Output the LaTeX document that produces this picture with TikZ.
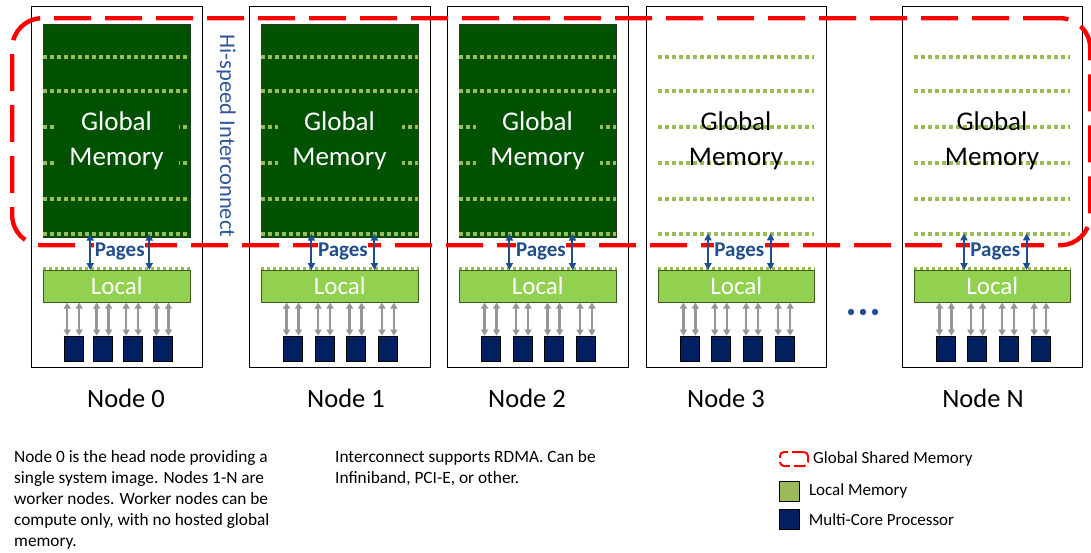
\documentclass[tikz,border=0pt]{standalone}
\usepackage{fontspec}
\setmainfont{Carlito}
\usetikzlibrary{arrows.meta,positioning,calc}
\definecolor{gmgreen}{HTML}{005200}
\definecolor{gmedge}{HTML}{1E3B1E}
\definecolor{dotgreen}{HTML}{9BBB59}
\definecolor{localgreen}{HTML}{92D050}
\definecolor{localedge}{HTML}{3F5A1E}
\definecolor{legendgreen}{HTML}{9BBB59}
\definecolor{cpunavy}{HTML}{002060}
\definecolor{pageblue}{HTML}{1F4E8C}
\definecolor{interblue}{HTML}{2F5597}
\definecolor{cpugray}{HTML}{969696}
\definecolor{sharedred}{HTML}{FF0000}

\begin{document}
\begin{tikzpicture}[x=1pt, y=-1pt,
  nodebox/.style={draw=black, line width=1.4pt, minimum height=361pt, inner sep=0pt, anchor=north west},
  gmfull/.style={draw=gmedge, line width=0.6pt, fill=gmgreen, minimum height=213pt, inner sep=0pt, anchor=north west},
  gmempty/.style={draw=none, minimum height=213pt, inner sep=0pt, anchor=north west},
  gmtxtfull/.style={fill=gmgreen, text=white, minimum width=124pt, minimum height=74pt, inner sep=0pt, align=center, font=\fontsize{27}{35}\selectfont},
  gmtxtempty/.style={text=black, minimum width=124pt, minimum height=74pt, inner sep=0pt, align=center, font=\fontsize{27}{35}\selectfont},
  gmdots/.style={dotgreen, line width=3.5pt, dash pattern=on 3.5pt off 3.5pt},
  locdots/.style={dotgreen, line width=2.2pt, dash pattern=on 3pt off 3pt},
  localbox/.style={draw=localedge, line width=0.6pt, fill=localgreen, text=white, minimum height=32pt, inner sep=0pt, anchor=north west, font=\fontsize{25}{28}\selectfont},
  cpu/.style={draw=black, line width=0.6pt, fill=cpunavy, minimum width=19pt, minimum height=25pt, inner sep=0pt},
  cpuarr/.style={{Stealth[length=6pt, width=7pt, inset=0pt]}-{Stealth[length=6pt, width=7pt, inset=0pt]}, line width=2.4pt, cpugray},
  pagearr/.style={{Stealth[length=7pt, width=7pt, inset=0pt]}-{Stealth[length=7pt, width=7pt, inset=0pt]}, line width=2pt, pageblue},
  pagelbl/.style={fill=white, inner sep=0.5pt, text=pageblue, font=\fontsize{21}{24}\selectfont\bfseries},
  nodelbl/.style={font=\fontsize{26.5}{30}\selectfont},
  interlbl/.style={text=interblue, font=\fontsize{22.5}{26}\selectfont},
  sharedmem/.style={draw=sharedred, line width=4.4pt, rounded corners=30pt, dash pattern=on 37pt off 14pt, inner sep=0pt, anchor=north west},
  notes/.style={align=left, inner sep=0pt, anchor=north west, font=\fontsize{17.3}{21}\selectfont},
  legtext/.style={inner sep=0pt, font=\fontsize{17}{20}\selectfont}
]
  \useasboundingbox (0,0) rectangle (1091,552);

  % compute nodes
  \foreach \n/\l/\w/\g/\t/\lx in {0/31/171/gmfull/gmtxtfull/126, 1/249/181/gmfull/gmtxtfull/346, 2/447/181/gmfull/gmtxtfull/527, 3/646/180/gmempty/gmtxtempty/726, N/902/180/gmempty/gmtxtempty/983} {
    \node[nodebox, minimum width=\w] (box\n) at (\l,6) {};
    \node[\g, minimum width=\w-24] (gm\n) at (\l+12,24) {};
    \foreach \y in {57,91,127,163,199,234}
      \draw[gmdots] (\l+12,\y) -- (\l+\w-12,\y);
    \node[\t] (gmt\n) at (\l+\w/2,141) {Global\\Memory};
    \node[localbox, minimum width=\w-24] (loc\n) at (\l+12,270) {Local};
    \draw[locdots] ([yshift=1.5pt]loc\n.north west) -- ([yshift=1.5pt]loc\n.north east);
    \foreach \k/\fr in {1/0.14, 2/0.34, 3/0.54, 4/0.745} {
      \node[cpu, anchor=north west] (cpu\n\k) at ($(loc\n.south west)!\fr!(loc\n.south east)+(0,33)$) {};
      \draw[cpuarr] ([xshift=3.5pt]cpu\n\k.north west) -- ([xshift=3.5pt]cpu\n\k.north west |- loc\n.south);
      \draw[cpuarr] ([xshift=15.5pt]cpu\n\k.north west) -- ([xshift=15.5pt]cpu\n\k.north west |- loc\n.south);
    }
    \node[nodelbl] (lbl\n) at (\lx,398) {Node \n};
  }

  % global shared memory
  \node[sharedmem, minimum width=1078pt, minimum height=227pt] (gsm) at (10,16) {};

  % pages between global and local
  \foreach \n in {0,1,2,3,N} {
    \coordinate (pa\n) at ($(gm\n.south west)!0.32!(gm\n.south east)+(0,-4)$);
    \coordinate (pb\n) at ($(gm\n.south west)!0.72!(gm\n.south east)+(0,-4)$);
    \node[pagelbl] (pg\n) at ($(gm\n.south west)!0.52!(gm\n.south east)+(0,14)$) {Pages};
    \draw[pagearr] (pa\n) -- (pa\n |- loc\n.north);
    \draw[pagearr] (pb\n) -- (pb\n |- loc\n.north);
  }

  \node[interlbl, rotate=-90] (hsi) at (226,136) {Hi-speed Interconnect};
  \foreach \x in {851,863,875}
    \fill[pageblue] (\x,312) circle (3.2);

  % notes
  \node[notes] (note0) at (14,450) {Node 0 is the head node providing a\\single system image. Nodes 1-N are\\worker nodes. Worker nodes can be\\compute only, with no hosted global\\memory.};
  \node[notes] (note1) at (335,450) {Interconnect supports RDMA. Can be\\Infiniband, PCI-E, or other.};

  % legend
  \node[sharedmem, line width=2pt, rounded corners=4pt, dash pattern=on 12pt off 4pt, minimum width=28pt, minimum height=14pt] (lgsm) at (779,451) {};
  \node[legtext, right=4pt of lgsm] (lgsmt) {Global Shared Memory};
  \node[draw=black, line width=0.8pt, fill=legendgreen, minimum width=20pt, minimum height=20pt, inner sep=0pt, anchor=north west] (lgloc) at (779,481) {};
  \node[legtext, right=9pt of lgloc] (lglocct) {Local Memory};
  \node[cpu, minimum width=20pt, minimum height=20pt, anchor=north west] (lgcpu) at (779,509) {};
  \node[legtext, right=9pt of lgcpu] (lgcput) {Multi-Core Processor};
\end{tikzpicture}
\end{document}
